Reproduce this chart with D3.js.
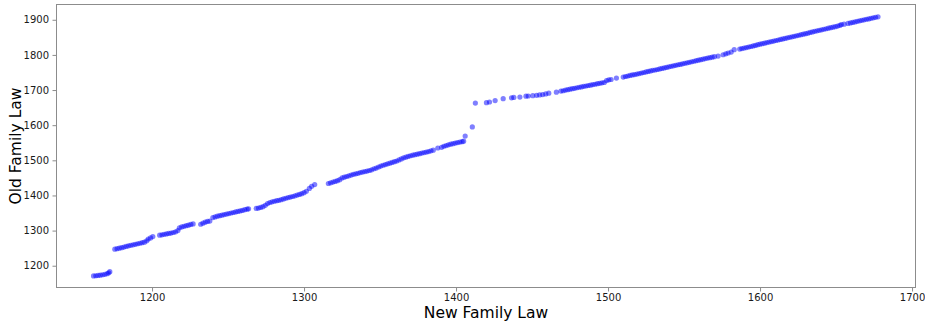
<!DOCTYPE html>
<html>
<head>
<meta charset="utf-8">
<script src="https://cdn.jsdelivr.net/npm/d3@7"></script>
<style>
  html, body { margin: 0; padding: 0; background: #fff; }
  svg { display: block; font-family: "DejaVu Sans", sans-serif; }
</style>
</head>
<body>
<svg id="chart" width="925" height="325"></svg>
<script>
// Score under the new family law (x) against the old family law (y)
const newLaw = [
  1161.5, 1163, 1164.5, 1166, 1167.5, 1169, 1170.5, 1171.5, 1172.2,
  1175.5, 1177, 1178.5, 1180, 1181.5, 1183, 1184.5, 1186, 1187.5, 1189, 1190.5, 1192, 1193.5, 1195, 1196.5, 1197.5, 1199, 1200.5,
  1205, 1206.5, 1208, 1209.5, 1211, 1212.5, 1214, 1215.5, 1217,
  1218, 1219.5, 1221, 1222.5, 1224, 1225.5, 1227,
  1232, 1233.5, 1235, 1236.5, 1238,
  1240, 1241.5, 1243, 1244.5, 1246, 1247.5, 1249, 1250.5, 1252, 1253.5, 1255, 1256.5, 1258, 1259.5, 1261, 1262.5, 1263.5,
  1268.5, 1270, 1271.5, 1273, 1274.5, 1276, 1277.5, 1279, 1280.5, 1282, 1283.5, 1285, 1286.5, 1288, 1289.5, 1291, 1292.5, 1294, 1295.5, 1297, 1298.5, 1300, 1301.5, 1303.5, 1305, 1307,
  1316, 1317.5, 1319, 1320.5, 1322, 1323.5, 1325, 1326.5, 1328, 1329.5, 1331, 1332.5, 1334, 1335.5, 1337, 1338.5, 1340, 1341.5, 1343, 1344.5, 1346, 1347.5, 1349, 1350.5, 1352, 1353.5, 1355, 1356.5, 1358, 1359.5, 1361, 1362.5, 1364, 1365.5, 1367, 1368.5, 1370, 1371.5, 1373, 1374.5, 1376, 1377.5, 1379, 1380.5, 1382, 1383.5, 1385,
  1388, 1390.5, 1392, 1393.5, 1395, 1396.5, 1398, 1399.5, 1401, 1402.5, 1404, 1405, 1406, 1410.7, 1412.7,
  1420, 1422, 1425.7, 1431, 1436.5, 1438, 1442, 1446, 1447.5, 1450.5, 1453, 1455, 1457, 1459, 1461, 1466,
  1469, 1470.5, 1472, 1473.5, 1475, 1476.5, 1478, 1479.5, 1481, 1482.5, 1484, 1485.5, 1487, 1488.5, 1490, 1491.5, 1493, 1494.5, 1496, 1497.5, 1499, 1500.5, 1502, 1505.5,
  1510, 1511.5, 1513, 1514.5, 1516, 1517.5, 1519, 1520.5, 1522, 1523.5, 1525, 1526.5, 1528, 1529.5, 1531, 1532.5, 1534, 1535.5, 1537, 1538.5, 1540, 1541.5, 1543, 1544.5, 1546, 1547.5, 1549, 1550.5, 1552, 1553.5, 1555, 1556.5, 1558, 1559.5, 1561, 1562.5, 1564, 1565.5, 1567, 1568.5, 1570, 1572.4,
  1575.7, 1577.5, 1579, 1581, 1583,
  1586.6, 1588, 1589.5, 1591, 1592.5, 1594, 1595.5, 1597, 1598.5, 1600, 1601.5, 1603, 1604.5, 1606, 1607.5, 1609, 1610.5, 1612, 1613.5, 1615, 1616.5, 1618, 1619.5, 1621, 1622.5, 1624, 1625.5, 1627, 1628.5, 1630, 1631.5, 1633, 1634.5, 1636, 1637.5, 1639, 1640.5, 1642, 1643.5, 1645, 1646.5, 1648, 1649.5, 1651, 1652.5, 1653.5, 1655.3,
  1657.9, 1659.5, 1661, 1662.5, 1664, 1665.5, 1667, 1668.5, 1670, 1671.5, 1673, 1674.5, 1676, 1677.6
];
const oldLaw = [
  1171, 1171.5, 1172.3, 1173.2, 1174.3, 1175.5, 1177.5, 1180, 1183,
  1247, 1248.5, 1250, 1251.5, 1253, 1255, 1256.5, 1258, 1259.5, 1261, 1262.5, 1264, 1265.5, 1267, 1271, 1276, 1279, 1283,
  1287, 1288, 1289.5, 1290.5, 1292, 1293, 1294.5, 1296.5, 1300,
  1308, 1310.5, 1312, 1314, 1315.5, 1317.5, 1319,
  1318, 1321, 1324, 1326, 1327,
  1337, 1339, 1341, 1342.5, 1344, 1345.5, 1347, 1348.5, 1350, 1351.5, 1353, 1354.5, 1356, 1357.5, 1359.5, 1361, 1362,
  1363, 1364, 1366, 1368, 1372, 1377, 1380, 1382, 1383.5, 1385, 1386, 1388, 1390, 1392, 1394, 1395.5, 1397, 1399, 1401, 1403, 1405, 1408, 1412, 1420, 1426, 1431,
  1434, 1436, 1438, 1440, 1442, 1445, 1450, 1452, 1454, 1456, 1458, 1460, 1461.5, 1463, 1465, 1466.5, 1468, 1469.5, 1471, 1473, 1476, 1478, 1481, 1483.5, 1486, 1488, 1490, 1492, 1494, 1496, 1498, 1501, 1504, 1507, 1509, 1511, 1513, 1514.5, 1516, 1517.5, 1519, 1520.5, 1522, 1523.5, 1525, 1527, 1529,
  1535, 1537, 1540, 1542, 1544, 1546, 1547.5, 1549, 1550.5, 1552, 1553, 1554.5, 1569, 1595, 1663,
  1664, 1666, 1670, 1675.5, 1678, 1679, 1680, 1682.5, 1683, 1684, 1685, 1686, 1687, 1689, 1691, 1694,
  1697, 1698, 1700, 1701, 1702.5, 1704, 1705, 1706.5, 1708, 1709, 1710.5, 1711.5, 1713, 1714, 1715.5, 1716.5, 1718, 1719, 1720.5, 1721.5, 1727, 1729, 1730, 1734,
  1737, 1738.5, 1740, 1741.5, 1743, 1744, 1745.5, 1747, 1748.5, 1750, 1751.5, 1753, 1754.5, 1756, 1757, 1758.5, 1760, 1761.5, 1763, 1764.5, 1766, 1767.5, 1769, 1770.5, 1772, 1773, 1774.5, 1776, 1777.5, 1779, 1780.5, 1782, 1783.5, 1785, 1786.5, 1788, 1789.5, 1791, 1792, 1793.5, 1795, 1796.6,
  1800.5, 1803, 1805.5, 1808, 1814.8,
  1816.5, 1818, 1819.5, 1821, 1822.5, 1824, 1825.5, 1827, 1829, 1830.5, 1832, 1833.5, 1835, 1836.5, 1838, 1839.5, 1841, 1842.5, 1844, 1845.5, 1847, 1848.5, 1850, 1851.5, 1853, 1854.5, 1856, 1857.5, 1859, 1860.5, 1862, 1864, 1865.5, 1867, 1868.5, 1870, 1871.5, 1873, 1874.5, 1876, 1877.5, 1879, 1880.5, 1882, 1884, 1886.6, 1887.5,
  1889.5, 1891, 1892.5, 1894, 1895.5, 1897, 1898.5, 1900, 1901.5, 1902.5, 1904, 1905.5, 1907, 1908.5
];
const xTicks = [1200, 1300, 1400, 1500, 1600, 1700];
const yTicks = [1200, 1300, 1400, 1500, 1600, 1700, 1800, 1900];

const margin = { left: 56, right: 9, top: 4, bottom: 37 };
const W = 925, H = 325;
const svg = d3.select("#chart");

const x = d3.scaleLinear().domain([1136.8, 1702.6]).range([margin.left, W - margin.right]);
const y = d3.scaleLinear().domain([1136.6, 1944.9]).range([H - margin.bottom, margin.top]);

const points = newLaw.map((v, i) => ({ nx: v, oy: oldLaw[i] }));

svg.append("g")
  .selectAll("circle")
  .data(points)
  .join("circle")
  .attr("cx", d => x(d.nx))
  .attr("cy", d => y(d.oy))
  .attr("r", 2.6)
  .attr("fill", "#0000ff")
  .attr("fill-opacity", 0.5);

// frame
svg.append("rect")
  .attr("x", margin.left + 0.5)
  .attr("y", margin.top + 0.5)
  .attr("width", W - margin.right - margin.left - 1)
  .attr("height", H - margin.bottom - margin.top - 1)
  .attr("fill", "none")
  .attr("stroke", "#8c8c8c")
  .attr("stroke-width", 1);

const xAxis = svg.append("g")
  .attr("transform", `translate(0,${H - margin.bottom})`)
  .call(d3.axisBottom(x).tickValues(xTicks).tickFormat(d3.format("d")).tickSize(3.5).tickPadding(2));
const yAxis = svg.append("g")
  .attr("transform", `translate(${margin.left},0)`)
  .call(d3.axisLeft(y).tickValues(yTicks).tickFormat(d3.format("d")).tickSize(3.5).tickPadding(3.5));

[xAxis, yAxis].forEach(g => {
  g.select(".domain").remove();
  g.selectAll(".tick line").attr("stroke", "#8c8c8c");
  g.selectAll(".tick text")
    .attr("fill", "#1a1a1a")
    .style("font-family", "'DejaVu Sans', sans-serif")
    .style("font-size", "10px");
});

svg.append("text")
  .attr("x", (margin.left + W - margin.right) / 2)
  .attr("y", 317.5)
  .attr("text-anchor", "middle")
  .attr("fill", "#000")
  .style("font-size", "15.5px")
  .text("New Family Law");

svg.append("text")
  .attr("transform", `translate(20.5,${(margin.top + H - margin.bottom) / 2}) rotate(-90)`)
  .attr("text-anchor", "middle")
  .attr("fill", "#000")
  .style("font-size", "15.5px")
  .text("Old Family Law");
</script>
</body>
</html>
